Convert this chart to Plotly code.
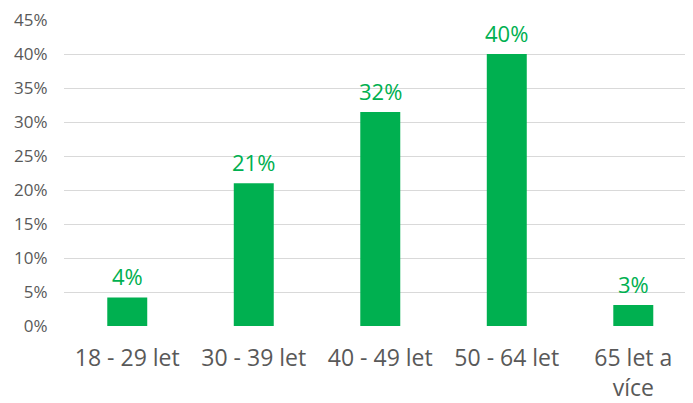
import plotly.graph_objects as go

categories = ["18 - 29 let", "30 - 39 let", "40 - 49 let", "50 - 64 let", "65 let a<br>více"]
values = [0.042, 0.21, 0.315, 0.40, 0.031]
labels = ["4%", "21%", "32%", "40%", "3%"]
tick_vals = [0, 0.05, 0.10, 0.15, 0.20, 0.25, 0.30, 0.35, 0.40, 0.45]
tick_text = ["0%", "5%", "10%", "15%", "20%", "25%", "30%", "35%", "40%", "45%"]

green = "#00B050"
font_family = "Open Sans, sans-serif"
xs = list(range(len(categories)))

fig = go.Figure(go.Bar(
    x=xs,
    y=values,
    width=0.316,
    marker=dict(color=green, line=dict(width=0)),
    hoverinfo="skip",
))

for x, v, t in zip(xs, values, labels):
    fig.add_annotation(
        x=x, y=v, text=t, showarrow=False, yanchor="bottom", yshift=4,
        font=dict(color=green, size=22, family=font_family),
    )

fig.update_layout(
    width=693, height=403,
    margin=dict(l=56, r=8, t=12, b=85, autoexpand=False),
    paper_bgcolor="white", plot_bgcolor="white",
    showlegend=False,
    font=dict(family=font_family, color="#595959"),
    xaxis=dict(
        tickmode="array", tickvals=xs, ticktext=categories,
        range=[-0.5, 4.472], showgrid=False, zeroline=False, showline=False,
        tickfont=dict(size=23, color="#595959"), ticks="", automargin=False,
        ticklabelstandoff=16,
    ),
    yaxis=dict(
        range=[0, 0.4502], tickmode="array", tickvals=tick_vals, ticktext=tick_text,
        showgrid=True, gridcolor="#d9d9d9", gridwidth=1, zeroline=False,
        tickfont=dict(size=17, color="#595959"), ticks="outside", ticklen=12,
        tickcolor="rgba(0,0,0,0)", showline=False, automargin=False,
    ),
)

fig.write_html("out.html")
